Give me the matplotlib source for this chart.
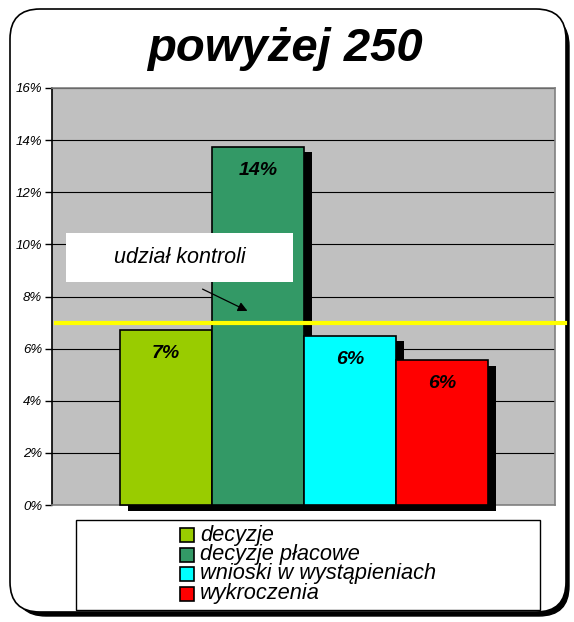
import matplotlib.pyplot as plt
from matplotlib.patches import FancyBboxPatch, Rectangle
import matplotlib.patheffects as pe
from matplotlib.lines import Line2D

plt.rcParams['font.family'] = ['Liberation Sans', 'DejaVu Sans']

# data
categories = ['decyzje', 'decyzje płacowe', 'wnioski w wystąpieniach', 'wykroczenia']
values = [6.7, 13.75, 6.5, 5.55]
value_labels = ['7%', '14%', '6%', '6%']
colors = ['#99CC00', '#339966', '#00FFFF', '#FF0000']
control_share = 7.0
yticks = [0, 2, 4, 6, 8, 10, 12, 14, 16]

fig = plt.figure(figsize=(5.74, 6.22), dpi=100)

# outer rounded frame with shadow (pixel coords)
fig.patches.append(FancyBboxPatch((16, 6), 553, 600, boxstyle='round,pad=0,rounding_size=30',
                                  transform=None, facecolor='black', edgecolor='black', zorder=0))
fig.patches.append(FancyBboxPatch((10, 10), 556, 603, boxstyle='round,pad=0,rounding_size=30',
                                  transform=None, facecolor='white', edgecolor='black', lw=1.2, zorder=1))

fig.text(0.497, 0.921, 'powyżej 250', ha='center', va='center', fontsize=34,
         fontweight='bold', fontstyle='italic', zorder=3)

ax = fig.add_axes([52 / 574, 117 / 622, 503 / 574, 417 / 622])
ax.set_zorder(5)
ax.set_facecolor('#C0C0C0')
x = list(range(len(values)))
bars = ax.bar(x, values, width=1.0, color=colors, edgecolor='black', linewidth=1.2, zorder=3)
for b in bars:
    b.set_path_effects([pe.SimplePatchShadow(offset=(6, -4), shadow_rgbFace='black', alpha=1.0), pe.Normal()])
    b.set_clip_on(False)

for xi, v, lab in zip(x, values, value_labels):
    ax.text(xi, v - 0.9, lab, ha='center', va='center', fontsize=14,
            fontweight='bold', fontstyle='italic', zorder=5)

ax.set_xlim(-1.24, 4.23)
ax.set_ylim(0, 16)
ax.set_yticks(yticks)
ax.set_yticklabels([f'{t}%' for t in yticks], fontstyle='italic', fontsize=9.5)
ax.set_xticks([])
ax.yaxis.grid(True, color='black', linewidth=0.8, zorder=0)
ax.set_axisbelow(True)
ax.tick_params(axis='y', length=5, width=1, pad=2)
for s in ['top', 'right', 'bottom']:
    ax.spines[s].set_color('#808080')
    ax.spines[s].set_linewidth(1.2)
ax.spines['left'].set_color('black')
ax.spines['left'].set_linewidth(1.2)

# control share line
ax.add_line(Line2D([-1.2, 4.34], [control_share, control_share], color='#FFFF00',
                   lw=3, clip_on=False, zorder=6))

# label box + arrow
ax.add_patch(Rectangle((-1.087, 8.56), 2.467, 1.88, facecolor='white', edgecolor='none', zorder=7))
ax.text(0.15, 9.48, 'udział kontroli', ha='center', va='center', fontsize=15.5,
        fontstyle='italic', zorder=8)
ax.annotate('', xy=(0.913, 7.4), xytext=(0.37, 8.33),
            arrowprops=dict(arrowstyle='-|>', color='black', lw=0.9, mutation_scale=14), zorder=8)

# legend
fig.patches.append(Rectangle((76, 12), 464, 90, transform=None, facecolor='white',
                             edgecolor='black', lw=1, zorder=2))
for i, (c, lab) in enumerate(zip(colors, categories)):
    yc = 622 - (535 + i * 19.5)
    fig.patches.append(Rectangle((180, yc - 7), 14, 14, transform=None, facecolor=c,
                                 edgecolor='black', lw=1.2, zorder=3))
    fig.text(200 / 574, yc / 622, lab, ha='left', va='center', fontsize=15.7,
             fontstyle='italic', zorder=4)

fig.savefig('out.png', dpi=100)
